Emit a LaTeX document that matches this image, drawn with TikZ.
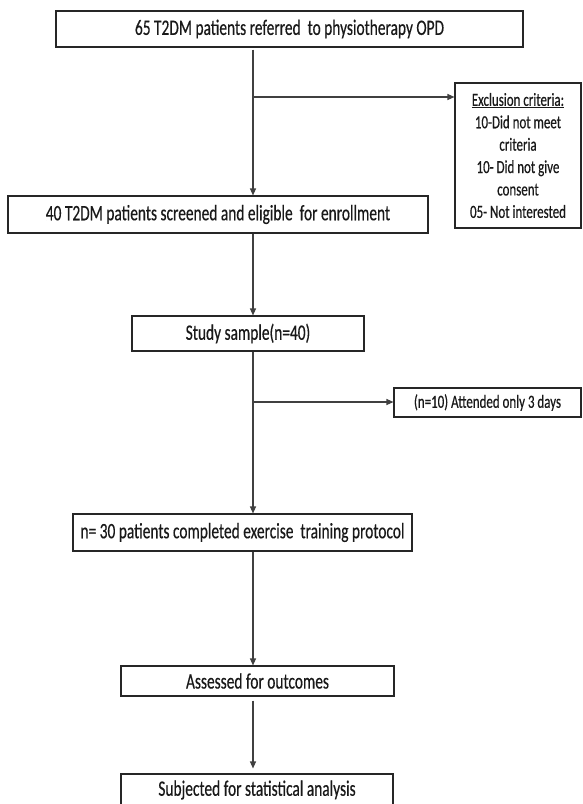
\documentclass[tikz,border=0pt]{standalone}
\usepackage{fontspec}
\setmainfont[FakeStretch=0.70,FakeBold=0.4]{Carlito}
\usetikzlibrary{arrows.meta}
\begin{document}
\begin{tikzpicture}[x=1pt,y=-1pt,
  box/.style={draw=black!85, line width=1.1pt, inner sep=0pt, align=center,
    font=\fontsize{22}{24}\selectfont, text=black!90},
  sbox/.style={box, font=\fontsize{18.5}{22.4}\selectfont},
  arr/.style={draw=black!75, line width=1.1pt, -{Triangle[length=7pt,width=6pt]}}]
\useasboundingbox (0,0) rectangle (582,804);
\fill[white] (0,0) rectangle (582,804);

\node[box, minimum width=467pt, minimum height=36pt] (b1) at (289.5,29)
  {65 T2DM patients referred\ \ to physiotherapy OPD};
\node[box, minimum width=420pt, minimum height=37pt] (b2) at (218,214.5)
  {40 T2DM patients screened and eligible\ \ for enrollment};
\node[sbox, minimum width=126pt, minimum height=145pt] (ex) at (518,155.5)
  {\underline{Exclusion criteria:}\\10-Did not meet\\criteria\\10- Did not give\\consent\\05- Not interested};
\node[box, minimum width=232pt, minimum height=35pt] (b3) at (248,333.5)
  {Study sample(n=40)};
\node[sbox, minimum width=187pt, minimum height=29pt] (att) at (487.5,402.5)
  {(n=10) Attended only 3 days};
\node[box, minimum width=339pt, minimum height=37pt] (b4) at (242.5,532.5)
  {n= 30 patients completed exercise\ \ training protocol};
\node[box, minimum width=273pt, minimum height=30pt] (b5) at (257.5,681)
  {Assessed for outcomes};
\node[box, minimum width=272pt, minimum height=32pt] (b6) at (257,790)
  {Subjected for statistical analysis};

\coordinate (vx) at (253,0);
\coordinate (j1) at (253,97);
\coordinate (j2) at (253,402);
\draw[arr, shorten <=2pt] (vx |- b1.south) -- (vx |- b2.north);
\draw[arr] (j1) -- (j1 -| ex.west);
\draw[arr] (vx |- b2.south) -- (vx |- b3.north);
\draw[arr] (vx |- b3.south) -- (vx |- b4.north);
\draw[arr] (j2) -- (j2 -| att.west);
\draw[arr] (vx |- b4.south) -- (vx |- b5.north);
\draw[arr, shorten <=4pt, shorten >=5pt] (vx |- b5.south) -- (vx |- b6.north);
\end{tikzpicture}
\end{document}
